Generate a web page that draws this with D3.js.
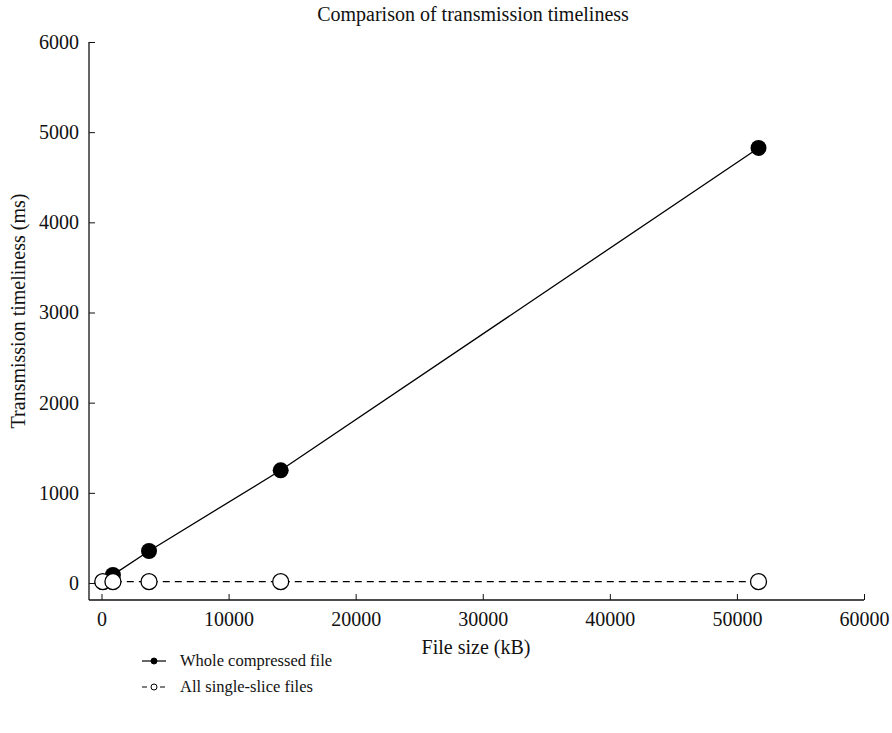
<!DOCTYPE html>
<html><head><meta charset="utf-8">
<script src="https://cdn.jsdelivr.net/npm/d3@7"></script>
<style>body{margin:0;background:#fff}svg text{font-family:"Liberation Serif","DejaVu Serif",serif;fill:#111}</style>
</head><body><svg id="c" width="892" height="733"></svg>
<script>
const fileSizes = [100, 900, 3740, 14100, 51700];
const wholeCompressed = [10, 90, 355, 1250, 4825];
const singleSlice = [15, 15, 15, 15, 15];
const xTicks = [0, 10000, 20000, 30000, 40000, 50000, 60000];
const yTicks = [0, 1000, 2000, 3000, 4000, 5000, 6000];
const seriesNames = ["Whole compressed file", "All single-slice files"];

const svg = d3.select("#c");
const fs = 20;
const x = d3.scaleLinear().domain([0, 60000]).range([101.5, 864]);
const y = d3.scaleLinear().domain([0, 6000]).range([583, 42]);
const axX0 = 89, axY0 = 600;

// x axis
const gx = svg.append("g").attr("transform", `translate(0,${axY0})`)
  .call(d3.axisBottom(x).tickValues(xTicks).tickFormat(d3.format("d")).tickSizeInner(-6).tickSizeOuter(0).tickPadding(12));
gx.select(".domain").remove();
gx.selectAll("text").attr("font-size", fs).attr("fill", "#111");
gx.selectAll("line").attr("stroke", "#111");
svg.append("line").attr("x1", axX0).attr("x2", x(60000)).attr("y1", axY0).attr("y2", axY0).attr("stroke", "#111").attr("stroke-width", 1.3);

// y axis
const gy = svg.append("g").attr("transform", `translate(${axX0},0)`)
  .call(d3.axisLeft(y).tickValues(yTicks).tickFormat(d3.format("d")).tickSizeInner(-6).tickSizeOuter(0).tickPadding(10));
gy.select(".domain").remove();
gy.selectAll("text").attr("font-size", fs).attr("fill", "#111");
gy.selectAll("line").attr("stroke", "#111");
svg.append("line").attr("x1", axX0).attr("x2", axX0).attr("y1", y(6000)).attr("y2", axY0).attr("stroke", "#111").attr("stroke-width", 1.3);

// titles
svg.append("text").attr("x", 473).attr("y", 21).attr("text-anchor", "middle").attr("font-size", fs).text("Comparison of transmission timeliness");
svg.append("text").attr("x", 476).attr("y", 654).attr("text-anchor", "middle").attr("font-size", fs).text("File size (kB)");
svg.append("text").attr("transform", "translate(25,311) rotate(-90)").attr("text-anchor", "middle").attr("font-size", fs).text("Transmission timeliness (ms)");

const line = d3.line().x((d, i) => x(fileSizes[i])).y(d => y(d));
const r = 8;

// whole compressed
svg.append("path").datum(wholeCompressed).attr("d", line).attr("fill", "none").attr("stroke", "#000").attr("stroke-width", 1.3);
svg.selectAll(".wc").data(wholeCompressed).join("circle").attr("class", "wc")
  .attr("cx", (d, i) => x(fileSizes[i])).attr("cy", d => y(d)).attr("r", r).attr("fill", "#000");

// single slice
svg.append("path").datum(singleSlice).attr("d", line).attr("fill", "none").attr("stroke", "#000").attr("stroke-width", 1.2).attr("stroke-dasharray", "7,5");
svg.selectAll(".ss").data(singleSlice).join("circle").attr("class", "ss")
  .attr("cx", (d, i) => x(fileSizes[i])).attr("cy", d => y(d)).attr("r", r).attr("fill", "#fff").attr("stroke", "#000").attr("stroke-width", 1.3);

// legend
const lg = svg.append("g");
const rows = [{y: 661, dash: null, fill: "#000"}, {y: 687, dash: "5,4", fill: "#fff"}];
rows.forEach((rw, i) => {
  lg.append("line").attr("x1", 142).attr("x2", 166).attr("y1", rw.y).attr("y2", rw.y).attr("stroke", "#000").attr("stroke-width", 1.2).attr("stroke-dasharray", rw.dash);
  lg.append("circle").attr("cx", 154).attr("cy", rw.y).attr("r", 3).attr("fill", rw.fill).attr("stroke", "#000").attr("stroke-width", 1);
  lg.append("text").attr("x", 180).attr("y", rw.y + 5).attr("font-size", 16.5).text(seriesNames[i]);
});
</script></body></html>
